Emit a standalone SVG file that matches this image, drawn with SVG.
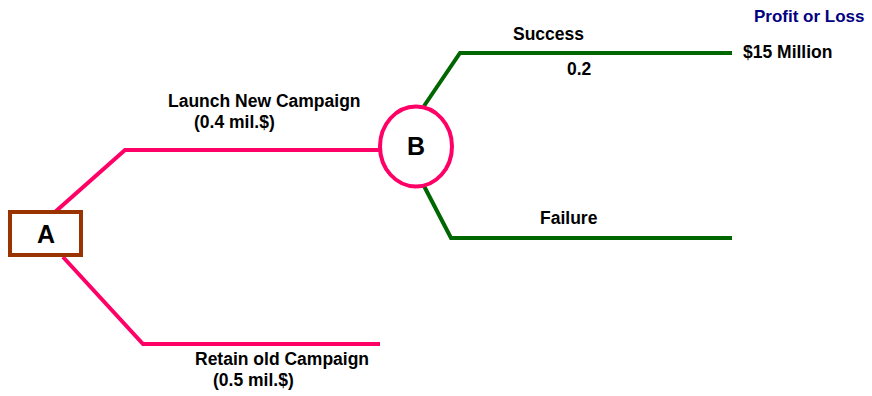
<svg xmlns="http://www.w3.org/2000/svg" width="872" height="396" viewBox="0 0 872 396">
<style>
.t{font-family:"Liberation Sans",Arial,sans-serif;font-weight:bold;font-size:17.5px;fill:#000}
.n{font-family:"Liberation Sans",Arial,sans-serif;font-weight:bold;font-size:25px;fill:#000;text-anchor:middle}
.pk{fill:none;stroke:#FF0066;stroke-width:4}
.gr{fill:none;stroke:#006600;stroke-width:4}
</style>
<rect width="872" height="396" fill="#fff"/>
<g id="connectors">
<polyline class="pk" points="55,212 125,150 380,150"/>
<polyline class="pk" points="63,257 143,344 380,344"/>
<polyline class="gr" points="424,106 460,53 732,53"/>
<polyline class="gr" points="424,186 451,238 732,238"/>
</g>
<g id="nodeA">
<rect x="10" y="212" width="71" height="43" fill="#fff" stroke="#993300" stroke-width="4"/>
<text class="n" x="46" y="243">A</text>
</g>
<g id="nodeB">
<ellipse cx="416" cy="146.5" rx="36" ry="40" fill="#fff" stroke="#FF0066" stroke-width="4"/>
<text class="n" x="416" y="155">B</text>
</g>
<g id="labels">
<text class="t" x="168" y="107">Launch New Campaign</text>
<text class="t" x="194" y="128">(0.4 mil.$)</text>
<text class="t" x="195" y="365">Retain old Campaign</text>
<text class="t" x="213" y="386">(0.5 mil.$)</text>
<text class="t" x="513" y="40">Success</text>
<text class="t" x="567" y="75">0.2</text>
<text class="t" x="540" y="224">Failure</text>
<text class="t" x="743" y="58">$15 Million</text>
<text class="t" x="754" y="22" style="fill:#000080;font-size:17px">Profit or Loss</text>
</g>
</svg>
